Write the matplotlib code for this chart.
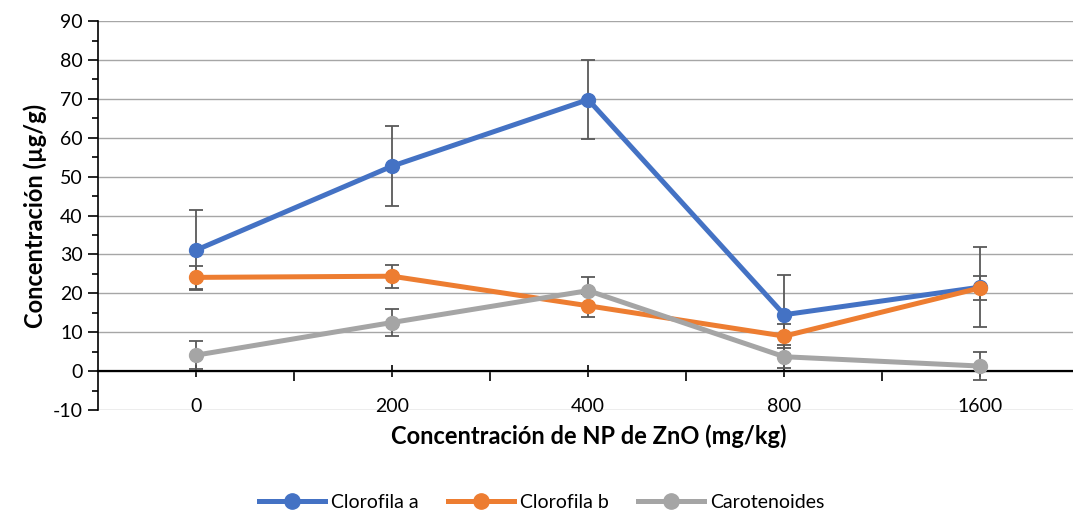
import matplotlib
matplotlib.use('Agg')
import matplotlib.pyplot as plt
from matplotlib.ticker import MultipleLocator, FixedLocator, NullFormatter
import numpy as np

plt.rcParams['font.family'] = ['Lato', 'DejaVu Sans']
plt.rcParams['axes.unicode_minus'] = False

# datos
categorias = ['0', '200', '400', '800', '1600']
clorofila_a = [31.1, 52.7, 69.8, 14.5, 21.6]
clorofila_a_err = [10.3, 10.3, 10.2, 10.1, 10.2]
clorofila_b = [24.1, 24.4, 16.8, 9.0, 21.4]
clorofila_b_err = [3.0, 3.0, 3.0, 3.0, 3.0]
carotenoides = [4.1, 12.5, 20.7, 3.7, 1.3]
carotenoides_err = [3.6, 3.5, 3.5, 3.0, 3.5]

series = [
    ('Clorofila a', clorofila_a, clorofila_a_err, '#4472C4'),
    ('Clorofila b', clorofila_b, clorofila_b_err, '#ED7D31'),
    ('Carotenoides', carotenoides, carotenoides_err, '#A5A5A5'),
]

fig = plt.figure(figsize=(10.73, 5.14), dpi=100)
ax = fig.add_axes([0.0913, 0.2023, 0.9087 + 0.005, 0.7567])

x = np.arange(len(categorias))
for nombre, vals, err, color in series:
    ax.errorbar(x, vals, yerr=err, fmt='none', ecolor='#595959', elinewidth=1.3,
                capsize=5, capthick=1.3, zorder=3)
    ax.plot(x, vals, '-o', color=color, lw=3.6, markersize=10, label=nombre, zorder=4)

ax.set_xlim(-0.5, 4.5)
ax.set_ylim(-10, 90)
ax.yaxis.set_major_locator(MultipleLocator(10))
ax.yaxis.set_minor_locator(MultipleLocator(5))
ax.grid(axis='y', which='major', color='#a6a6a6', lw=1, zorder=0)
ax.set_axisbelow(True)

for s in ['top', 'right']:
    ax.spines[s].set_visible(False)
ax.spines['left'].set_color('black')
ax.spines['left'].set_linewidth(1.2)
ax.spines['bottom'].set_position(('data', 0))
ax.spines['bottom'].set_color('black')
ax.spines['bottom'].set_linewidth(1.6)
ax.spines['bottom'].set_zorder(2)

ax.xaxis.set_major_locator(FixedLocator([0.5, 1.5, 2.5, 3.5]))
ax.xaxis.set_major_formatter(NullFormatter())
ax.xaxis.set_minor_locator(FixedLocator(x))
ax.set_xticklabels(categorias, minor=True)
ax.tick_params(axis='x', which='major', direction='out', length=7, width=1.2, color='black')
ax.tick_params(axis='x', which='minor', direction='inout', length=8, width=1.2, color='black',
               pad=15, labelsize=14)
ax.tick_params(axis='y', which='major', direction='out', length=7, width=1.2, labelsize=14, pad=4)
ax.tick_params(axis='y', which='minor', direction='out', length=4, width=1.2)

ax.set_ylabel('Concentración (µg/g)', fontsize=17, fontweight='bold', labelpad=4)
fig.text(0.549, 0.152, 'Concentración de NP de ZnO (mg/kg)', fontsize=17,
         fontweight='bold', ha='center', va='center')

fig.legend(loc='center', bbox_to_anchor=(0.505, 0.022), ncol=3, frameon=False,
           fontsize=14, handlelength=3.4, columnspacing=1.5, handletextpad=0.3,
           markerscale=1.1)

fig.savefig('out.png', dpi=100)
